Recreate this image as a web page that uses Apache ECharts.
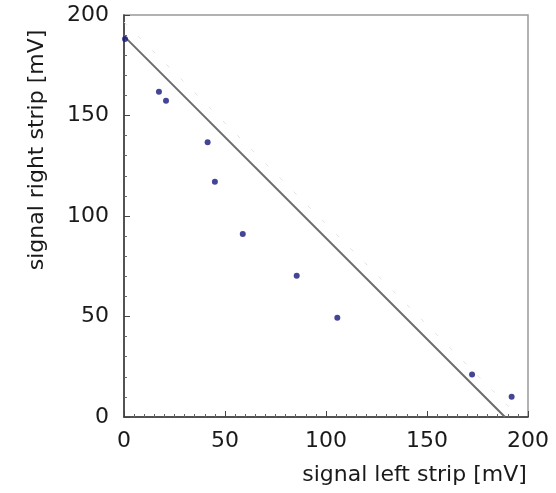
<!DOCTYPE html>
<html>
<head>
<meta charset="utf-8">
<script src="https://cdn.jsdelivr.net/npm/echarts@6/dist/echarts.min.js"></script>
<style>
html,body{margin:0;padding:0;background:#fff;}
#chart{width:556px;height:493px;}
</style>
</head>
<body>
<div id="chart"></div>
<script>
// measured points
var leftSignal  = [0.5, 17.3, 20.8, 41.4, 45.0, 58.8, 85.5, 105.6, 172.3, 191.9];
var rightSignal = [188, 161.8, 157.4, 136.7, 117.1, 91.0, 70.3, 49.4, 21.2, 10.1];
// fitted line endpoints
var fitX = [0, 188.6];
var fitY = [189.5, 0];
// faint reference line endpoints
var refX = [0, 195.6];
var refY = [196.5, 0];
var axisMin = 0, axisMax = 200, axisStep = 50;
var xTitle = 'signal left strip [mV]';
var yTitle = 'signal right strip [mV]';

function pairs(xs, ys){ return xs.map(function(x,i){ return [x, ys[i]]; }); }

var font = 'DejaVu Sans';
var chart = echarts.init(document.getElementById('chart'), null, {renderer:'canvas'});
chart.setOption({
  backgroundColor:'#fff',
  animation:false,
  grid:{left:124, top:15, right:28, bottom:76, show:true, borderColor:'#999', borderWidth:1.5, backgroundColor:'transparent'},
  xAxis:{
    type:'value', min:axisMin, max:axisMax, interval:axisStep,
    name:xTitle, nameLocation:'middle', nameGap:47,
    nameTextStyle:{fontFamily:font, fontSize:22, color:'#1a1a1a', padding:[0,0,0,177]},
    axisLine:{show:true, onZero:false, lineStyle:{color:'#333', width:1.5}},
    axisTick:{show:true, inside:true, length:6, lineStyle:{color:'#444'}},
    minorTick:{show:true, splitNumber:10, length:3, lineStyle:{color:'#666'}},
    axisLabel:{fontFamily:font, fontSize:22, color:'#1a1a1a', margin:13},
    splitLine:{show:false}
  },
  yAxis:{
    type:'value', min:axisMin, max:axisMax, interval:axisStep,
    name:yTitle, nameLocation:'middle', nameGap:76,
    nameTextStyle:{fontFamily:font, fontSize:22, color:'#1a1a1a', padding:[0,0,0,132]},
    axisLine:{show:true, onZero:false, lineStyle:{color:'#333', width:1.5}},
    axisTick:{show:true, inside:true, length:6, lineStyle:{color:'#444'}},
    minorTick:{show:true, splitNumber:5, length:3, lineStyle:{color:'#666'}},
    axisLabel:{fontFamily:font, fontSize:22, color:'#1a1a1a', margin:15},
    splitLine:{show:false}
  },
  series:[
    {
      type:'line', data:pairs(refX, refY), showSymbol:false, silent:true,
      lineStyle:{color:'#e2e2e2', width:1, type:[4,16]}, z:1
    },
    {
      type:'line', data:pairs(fitX, fitY), showSymbol:false, silent:true,
      lineStyle:{color:'#6c6c6c', width:2}, z:2
    },
    {
      type:'scatter', data:pairs(leftSignal, rightSignal), symbol:'circle', symbolSize:6,
      itemStyle:{color:'#16167c'}, z:3
    }
  ]
});
</script>
</body>
</html>
